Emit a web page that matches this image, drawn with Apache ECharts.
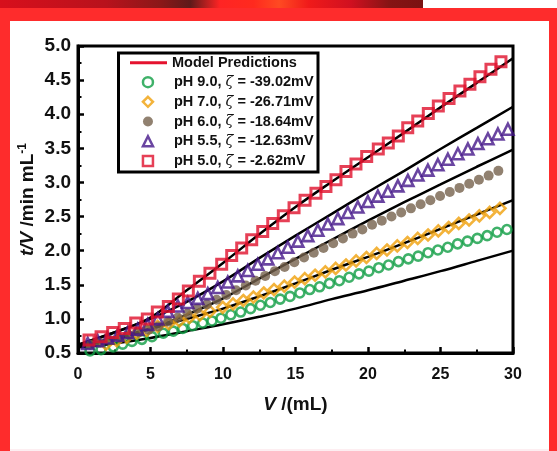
<!DOCTYPE html>
<html><head><meta charset="utf-8">
<script src="https://cdn.jsdelivr.net/npm/echarts@6/dist/echarts.min.js"></script>
<style>html,body{margin:0;padding:0;background:#fe2c2c}#c{width:557px;height:451px}</style>
</head><body><div id="c"></div><script>
const FONT = "'Liberation Sans','Arial',sans-serif";

// ---- data ----
const legendNames = ['Model Predictions', 'pH 9.0, ζ = -39.02mV', 'pH 7.0, ζ = -26.71mV', 'pH 6.0, ζ = -18.64mV', 'pH 5.5, ζ = -12.63mV', 'pH 5.0, ζ = -2.62mV'];

const vModel = [0, 2.5, 5, 7.5, 10, 12.5, 15, 17.5, 20, 22.5, 25, 27.5, 30];
const model1 = [0.62, 0.80, 1.02, 1.42, 1.82, 2.24, 2.64, 3.01, 3.37, 3.73, 4.10, 4.46, 4.82];
const model2 = [0.62, 0.80, 1.00, 1.25, 1.55, 1.89, 2.22, 2.54, 2.86, 3.17, 3.49, 3.80, 4.11];
const model3 = [0.60, 0.72, 0.86, 1.06, 1.30, 1.59, 1.88, 2.16, 2.44, 2.71, 2.97, 3.23, 3.48];
const model4 = [0.60, 0.70, 0.85, 1.00, 1.15, 1.33, 1.52, 1.72, 1.91, 2.11, 2.32, 2.53, 2.74];
const model5 = [0.58, 0.64, 0.72, 0.82, 0.92, 1.03, 1.15, 1.29, 1.42, 1.56, 1.70, 1.85, 2.00];

const vGreen = [0.83,1.59,2.43,3.08,3.72,4.41,5.10,5.88,6.57,7.22,7.91,8.60,9.24,9.86,10.54,11.22,11.90,12.58,13.26,13.94,14.62,15.30,15.98,16.66,17.34,18.02,18.70,19.38,20.06,20.74,21.42,22.10,22.78,23.46,24.14,24.82,25.50,26.18,26.86,27.54,28.22,28.90,29.58];
const yGreen = [0.53,0.55,0.59,0.63,0.67,0.70,0.74,0.79,0.82,0.86,0.90,0.94,0.97,1.01,1.06,1.10,1.15,1.20,1.24,1.29,1.33,1.38,1.43,1.47,1.52,1.56,1.61,1.66,1.70,1.75,1.79,1.84,1.88,1.92,1.97,2.01,2.05,2.10,2.14,2.18,2.22,2.27,2.31];

const vOrange = [1.93,2.67,3.36,4.05,4.74,5.49,6.25,6.99,7.68,8.41,9.10,9.98,10.69,11.40,12.10,12.81,13.52,14.23,14.94,15.64,16.35,17.06,17.77,18.48,19.18,19.89,20.60,21.31,22.02,22.72,23.43,24.14,24.85,25.56,26.26,26.97,27.68,28.39,29.10];
const yOrange = [0.63,0.68,0.73,0.79,0.83,0.89,0.93,0.97,1.02,1.06,1.11,1.17,1.22,1.27,1.32,1.38,1.43,1.48,1.54,1.59,1.64,1.69,1.74,1.79,1.85,1.90,1.96,2.01,2.07,2.12,2.18,2.23,2.29,2.34,2.40,2.45,2.51,2.56,2.62];

const vBrown = [0.85,1.52,2.19,2.86,3.53,4.20,4.87,5.54,6.21,6.88,7.55,8.22,8.89,9.56,10.23,10.90,11.57,12.24,12.91,13.58,14.25,14.92,15.59,16.26,16.93,17.60,18.27,18.94,19.61,20.28,20.95,21.62,22.29,22.96,23.63,24.30,24.97,25.64,26.31,26.98,27.65,28.32,28.99];
const yBrown = [0.62,0.65,0.69,0.72,0.76,0.80,0.84,0.89,0.96,1.02,1.08,1.15,1.21,1.28,1.35,1.42,1.49,1.56,1.63,1.70,1.76,1.83,1.90,1.97,2.04,2.11,2.18,2.25,2.31,2.38,2.44,2.50,2.56,2.62,2.68,2.74,2.80,2.86,2.92,2.98,3.04,3.10,3.17];

const vPurple = [0.67,1.36,2.05,2.74,3.43,4.12,4.81,5.50,6.19,6.88,7.57,8.26,8.95,9.64,10.33,11.02,11.71,12.40,13.09,13.78,14.47,15.16,15.85,16.54,17.23,17.92,18.61,19.30,19.99,20.68,21.37,22.06,22.75,23.44,24.13,24.82,25.51,26.20,26.89,27.58,28.27,28.96,29.65];
const yPurple = [0.64,0.68,0.72,0.76,0.80,0.85,0.92,1.00,1.11,1.19,1.24,1.30,1.37,1.46,1.54,1.63,1.71,1.80,1.88,1.97,2.05,2.14,2.22,2.30,2.39,2.47,2.56,2.64,2.72,2.80,2.87,2.95,3.03,3.11,3.18,3.26,3.34,3.42,3.49,3.57,3.64,3.71,3.78];

const vRed = [0.76,1.59,2.39,3.19,3.98,4.78,5.47,6.23,6.92,7.61,8.37,9.10,9.91,10.60,11.29,11.98,12.74,13.43,14.16,14.90,15.66,16.41,17.10,17.79,18.48,19.17,19.91,20.71,21.40,22.09,22.74,23.43,24.16,24.85,25.59,26.34,27.03,27.72,28.48,29.17];
const yRed = [0.69,0.74,0.80,0.86,0.94,1.00,1.10,1.18,1.29,1.41,1.55,1.67,1.80,1.93,2.04,2.16,2.28,2.40,2.51,2.63,2.74,2.84,2.94,3.04,3.16,3.27,3.38,3.49,3.58,3.68,3.80,3.90,4.01,4.12,4.23,4.34,4.44,4.55,4.66,4.77];

const xMin = 0, xMax = 30, xStep = 5;
const yMin = 0.5, yMax = 5.0, yStep = 0.5;

// ---- build ----
const zip = (a, b) => a.map((v, i) => [v, b[i]]);
const modelSeries = [model1, model2, model3, model4, model5].map((m, i) => ({
  name: 'model' + (i + 1), type: 'line', data: zip(vModel, m), smooth: 0.35,
  symbol: 'none', lineStyle: { color: '#000', width: 2.5 }, z: 2, silent: true
}));
function sc(name, v, y, symbol, size, color, hollow, bw) {
  return {
    name, type: 'scatter', data: zip(v, y), symbol, symbolSize: size, z: 4,
    itemStyle: hollow ? { color: 'rgba(255,255,255,0)', borderColor: color, borderWidth: bw } : { color: color, borderWidth: 0 }
  };
}
const legendText = {
  fontFamily: FONT, fontWeight: 'bold', fontSize: 14.5, color: '#111', lineHeight: 19.7,
  rich: { z: { fontFamily: "'DejaVu Serif',serif", fontStyle: 'italic', fontWeight: 'normal', fontSize: 14.5, color: '#111', lineHeight: 19.7 } }
};
const chart = echarts.init(document.getElementById('c'), null, { renderer: 'canvas' });
chart.setOption({
  backgroundColor: '#fe2c2c',
  animation: false,
  graphic: [
    { type: 'rect', shape: { x: 10, y: 21, width: 539, height: 430 }, style: { fill: '#ffffff' }, z: -10, silent: true },
    { type: 'rect', shape: { x: 0, y: 0, width: 423, height: 8 }, z: -10, silent: true,
      style: { fill: { type: 'linear', x: 0, y: 0, x2: 1, y2: 0, colorStops: [
        { offset: 0, color: '#d80f1c' }, { offset: 0.25, color: '#b8121c' }, { offset: 0.38, color: '#8a1818' },
        { offset: 0.45, color: '#5e1a1a' }, { offset: 0.52, color: '#ff2424' }, { offset: 0.6, color: '#ff2a1e' },
        { offset: 0.66, color: '#ff4a22' }, { offset: 0.73, color: '#f01a1a' }, { offset: 0.83, color: '#d01020' },
        { offset: 0.92, color: '#861414' }, { offset: 1, color: '#7a1212' } ] } } },
    { type: 'rect', shape: { x: 423, y: 0, width: 134, height: 8 }, style: { fill: '#ffffff' }, z: -10, silent: true },
    { type: 'rect', shape: { x: 10, y: 449, width: 539, height: 2 }, style: { fill: '#fdeef1' }, z: -9, silent: true },
    { type: 'rect', shape: { x: 118.5, y: 53, width: 199.5, height: 119 }, style: { fill: 'none', stroke: '#000', lineWidth: 3 }, z: 10, silent: true }
  ],
  grid: { left: 78, right: 44, top: 46, bottom: 98, show: true, borderColor: '#000', borderWidth: 3, backgroundColor: 'rgba(0,0,0,0)' },
  legend: [
    {
      data: [{ name: legendNames[0], icon: 'rect' }], orient: 'vertical', left: 130, top: 52.8, padding: 0, itemGap: 0,
      itemWidth: 37, itemHeight: 3, selectedMode: false, textStyle: legendText
    },
    {
      data: legendNames.slice(1).map(n => ({ name: n, itemStyle: { borderWidth: 2.5 } })),
      orient: 'vertical', left: 141.7, top: 72.3, padding: 0, itemGap: 0,
      itemWidth: 10, itemHeight: 10, selectedMode: false,
      formatter: n => n.replace('ζ', '{z|ζ}'),
      textStyle: Object.assign({}, legendText, { padding: [0, 0, 0, 16] })
    }
  ],
  xAxis: {
    type: 'value', min: xMin, max: xMax, interval: xStep,
    name: '{i|V}{n| /(mL)}', nameLocation: 'middle', nameGap: 42, nameMoveOverlap: false,
    nameTextStyle: { rich: {
      i: { fontFamily: FONT, fontWeight: 'bold', fontStyle: 'italic', fontSize: 19, color: '#111' },
      n: { fontFamily: FONT, fontWeight: 'bold', fontSize: 19, color: '#111' } } },
    axisLine: { show: true, lineStyle: { color: '#000', width: 3 } },
    axisTick: { show: true, inside: true, length: 6, lineStyle: { color: '#000', width: 2.5 } },
    minorTick: { show: true, splitNumber: 2, length: 3.5, lineStyle: { color: '#000', width: 2 } },
    splitLine: { show: false },
    axisLabel: { fontFamily: FONT, fontWeight: 'bold', fontSize: 16, color: '#111', margin: 14 }
  },
  yAxis: {
    type: 'value', min: yMin, max: yMax, interval: yStep,
    name: '{i|t/V}{n| /min mL}{s|-1}', nameLocation: 'middle', nameGap: 40, nameRotate: 90, nameMoveOverlap: false,
    nameTextStyle: { rich: {
      i: { fontFamily: FONT, fontWeight: 'bold', fontStyle: 'italic', fontSize: 19, color: '#111', lineHeight: 21 },
      n: { fontFamily: FONT, fontWeight: 'bold', fontSize: 19, color: '#111', lineHeight: 21 },
      s: { fontFamily: FONT, fontWeight: 'bold', fontSize: 12, color: '#111', verticalAlign: 'top', lineHeight: 21 } } },
    axisLine: { show: true, lineStyle: { color: '#000', width: 3 } },
    axisTick: { show: true, inside: true, length: 6, lineStyle: { color: '#000', width: 2.5 } },
    minorTick: { show: true, splitNumber: 2, length: 3.5, lineStyle: { color: '#000', width: 2 } },
    splitLine: { show: false },
    axisLabel: { fontFamily: FONT, fontWeight: 'bold', fontSize: 19, color: '#111', margin: 7, formatter: v => v.toFixed(1) }
  },
  series: [
    { name: legendNames[0], type: 'line', data: [], symbol: 'none', lineStyle: { color: '#e4122e', width: 3 }, itemStyle: { color: '#e4122e' } },
    ...modelSeries,
    sc(legendNames[1], vGreen, yGreen, 'circle', 9, '#0f9e44', true, 2.6),
    sc(legendNames[2], vOrange, yOrange, 'diamond', 11, '#f0a00a', true, 2.6),
    sc(legendNames[3], vBrown, yBrown, 'circle', 10, '#75624c', false, 0),
    sc(legendNames[4], vPurple, yPurple, 'triangle', 11, '#45178a', true, 2.6),
    sc(legendNames[5], vRed, yRed, 'rect', 10, '#e0102c', true, 3)
  ]
});
</script></body></html>
